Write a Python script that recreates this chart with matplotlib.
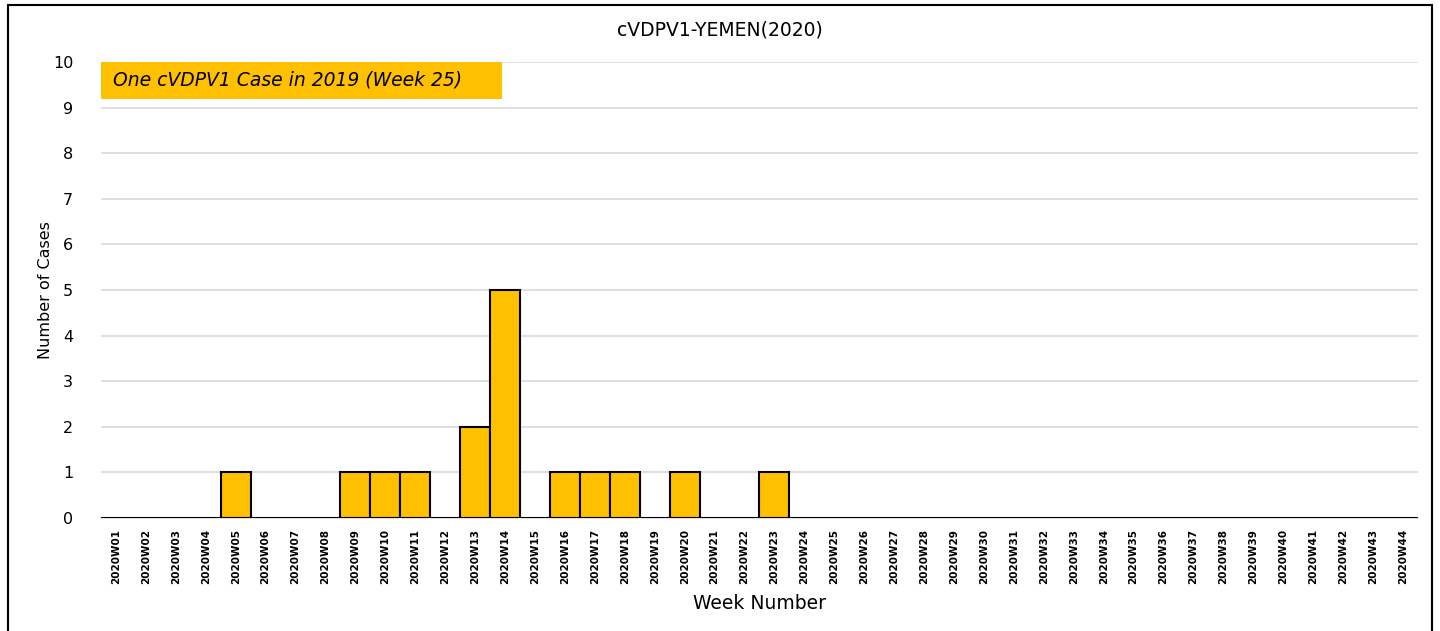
import matplotlib
matplotlib.use("Agg")
import matplotlib.pyplot as plt
from matplotlib.patches import Rectangle

weeks = ["2020W%02d" % i for i in range(1, 45)]
cases = [0, 0, 0, 0, 1, 0, 0, 0, 1, 1,
         1, 0, 2, 5, 0, 1, 1, 1, 0, 1,
         0, 0, 1, 0, 0, 0, 0, 0, 0, 0,
         0, 0, 0, 0, 0, 0, 0, 0, 0, 0,
         0, 0, 0, 0]
title = "cVDPV1-YEMEN(2020)"
note = "One cVDPV1 Case in 2019 (Week 25)"

plt.rcParams['font.family'] = ['DejaVu Sans']

fig = plt.figure(figsize=(14.4, 6.31), dpi=100)
ax = fig.add_axes([0.0701, 0.1791, 0.9146, 0.7226])

x = list(range(len(weeks)))
ax.bar(x, cases, width=1.0, color="#FFC000", edgecolor="black", linewidth=1.5, zorder=3)

ax.set_xlim(-0.5, len(weeks) - 0.5)
ax.set_ylim(0, 10)
ax.set_yticks(range(0, 11))
ax.tick_params(axis='y', length=0, labelsize=11.5, pad=20)
ax.set_xticks(x)
ax.set_xticklabels(weeks, rotation=90, fontsize=7.5, fontweight='bold')
ax.tick_params(axis='x', length=0, pad=8)
ax.grid(axis='y', color="#d9d9d9", linewidth=1.2, zorder=0)
for s in ['top', 'right', 'left']:
    ax.spines[s].set_visible(False)
ax.spines['bottom'].set_color("#d9d9d9")
ax.spines['bottom'].set_linewidth(1.2)

ax.set_ylabel("Number of Cases", fontsize=11.5, labelpad=0)
ax.set_xlabel("Week Number", fontsize=13.5, labelpad=7)
fig.text(0.5, 0.952, title, ha='center', va='center', fontsize=13.5)

# annotation box
ax.add_patch(Rectangle((-0.6, 9.2), 13.5, 0.8, facecolor="#FFC000", edgecolor="none", zorder=4))
ax.text(-0.1, 9.6, note, style='italic', fontsize=13.5, ha='left', va='center', zorder=5)

# outer frame
fig.add_artist(Rectangle((8 / 1440, -0.01), 1424 / 1440, 1 - 5 / 631 + 0.01,
                         transform=fig.transFigure, fill=False, edgecolor="black", linewidth=1.5))

fig.savefig("out.png", dpi=100)
